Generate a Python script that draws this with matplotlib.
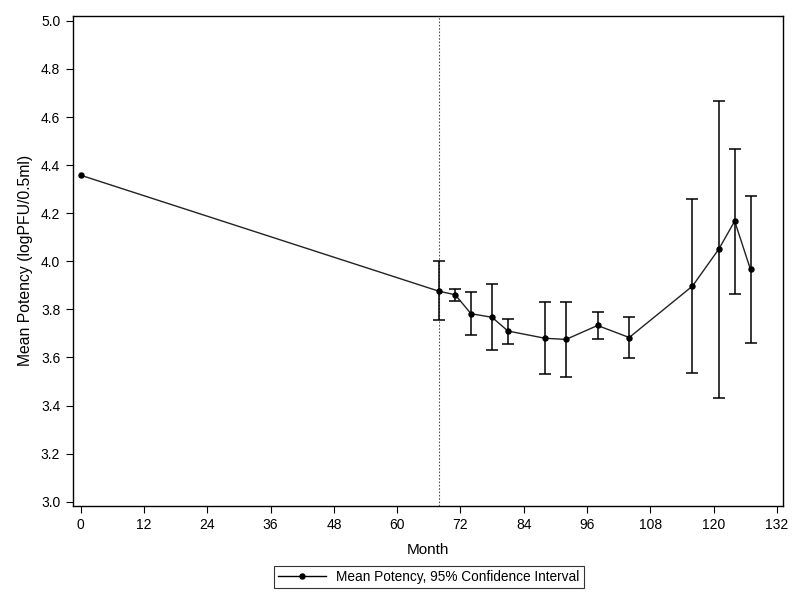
import matplotlib
matplotlib.use("Agg")
import matplotlib.pyplot as plt
from matplotlib.lines import Line2D

plt.rcParams['font.family'] = ['Liberation Sans', 'DejaVu Sans']

months = [0, 68, 71, 74, 78, 81, 88, 92, 98, 104, 116, 121, 124, 127]
mean_potency = [4.358, 3.875, 3.861, 3.782, 3.767, 3.710, 3.680, 3.675, 3.733, 3.683, 3.897, 4.051, 4.167, 3.966]
ci_lower = [None, 3.755, 3.835, 3.692, 3.630, 3.656, 3.530, 3.517, 3.676, 3.597, 3.534, 3.433, 3.864, 3.660]
ci_upper = [None, 4.000, 3.883, 3.871, 3.905, 3.759, 3.829, 3.829, 3.791, 3.770, 4.259, 4.665, 4.469, 4.270]
ref_month = 68
x_ticks = list(range(0, 133, 12))
y_ticks = [3.0, 3.2, 3.4, 3.6, 3.8, 4.0, 4.2, 4.4, 4.6, 4.8, 5.0]

fig = plt.figure(figsize=(8, 6), dpi=100)
ax = fig.add_axes([0.0909, 0.157, 0.979 - 0.0909, 0.974 - 0.157])

ax.axvline(ref_month, color='#555555', linestyle=(0, (1.5, 1.5)), linewidth=0.8, zorder=1)

ax.plot(months, mean_potency, color='#222222', linewidth=1.0, marker='o', markersize=3.6,
        markerfacecolor='black', markeredgecolor='black', zorder=3)

for m, mu, lo, hi in zip(months, mean_potency, ci_lower, ci_upper):
    if lo is None:
        continue
    ax.errorbar([m], [mu], yerr=[[mu - lo], [hi - mu]], fmt='none', ecolor='black',
                elinewidth=1.1, capsize=4.3, capthick=1.1, zorder=2)

ax.set_xlim(-1.52, 133.2)
ax.set_ylim(2.983, 5.022)
ax.set_xticks(x_ticks)
ax.set_xticklabels([str(t) for t in x_ticks])
ax.set_yticks(y_ticks)
ax.set_yticklabels([f"{t:.1f}" for t in y_ticks])
ax.tick_params(direction='out', length=5, width=0.8, labelsize=10, colors='black', pad=4)
for s in ax.spines.values():
    s.set_linewidth(1.0)

ax.set_xlabel('Month', fontsize=11, labelpad=8)
ax.set_ylabel('Mean Potency (logPFU/0.5ml)', fontsize=11.3, labelpad=6)

handle = Line2D([], [], color='black', linewidth=1.0, marker='o', markersize=3.6)
leg = fig.legend([handle], ['Mean Potency, 95% Confidence Interval'], loc='center',
                 bbox_to_anchor=(0.536, 0.0383), fontsize=9.8, frameon=True, fancybox=False,
                 edgecolor='black', handlelength=3.5, borderpad=0.3)
leg.get_frame().set_linewidth(0.8)

fig.savefig('out.png', dpi=100)
